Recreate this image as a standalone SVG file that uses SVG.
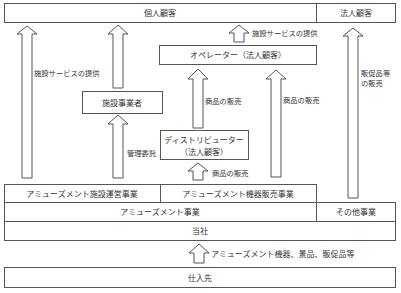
<svg xmlns="http://www.w3.org/2000/svg" width="401" height="293" viewBox="0 0 401 293">
<style>
.b{fill:#fff;stroke:#555;stroke-width:1}
.a{fill:#fff;stroke:#555;stroke-width:1;stroke-linejoin:miter}
.t{font-family:"Noto Sans CJK JP","Noto Sans CJK SC",sans-serif;font-size:8px;fill:#333;text-anchor:middle}
.l{font-family:"Noto Sans CJK JP","Noto Sans CJK SC",sans-serif;font-size:7.3px;fill:#333}
</style>
<rect width="401" height="293" fill="#fff"/>
<g id="kojin"><rect class="b" x="4.5" y="3.5" width="312" height="19"/><text class="t" x="160" y="16">個人顧客</text></g>
<g id="hojin"><rect class="b" x="316.5" y="3.5" width="79" height="19"/><text class="t" x="356" y="16">法人顧客</text></g>
<g id="operator"><rect class="b" x="159.5" y="45.5" width="157" height="19"/><text class="t" x="238" y="58">オペレーター（法人顧客）</text></g>
<g id="shisetsu"><rect class="b" x="82.5" y="91.5" width="80" height="22"/><text class="t" x="122" y="105.5">施設事業者</text></g>
<g id="distributor"><rect class="b" x="160.5" y="130.5" width="88" height="29"/><text class="t" x="204" y="143">ディストリビューター</text><text class="t" x="204" y="155">（法人顧客）</text></g>
<g id="unei"><rect class="b" x="4.5" y="184.5" width="156" height="18"/><text class="t" x="82" y="196.5">アミューズメント施設運営事業</text></g>
<g id="hanbai"><rect class="b" x="160.5" y="184.5" width="156" height="18"/><text class="t" x="238" y="196.5">アミューズメント機器販売事業</text></g>
<g id="amusement"><rect class="b" x="4.5" y="202.5" width="312" height="19"/><text class="t" x="160" y="215">アミューズメント事業</text></g>
<g id="sonota"><rect class="b" x="316.5" y="202.5" width="79" height="19"/><text class="t" x="356" y="215">その他事業</text></g>
<g id="tosha"><rect class="b" x="4.5" y="221.5" width="391" height="19"/><text class="t" x="200" y="234">当社</text></g>
<g id="shiiresaki"><rect class="b" x="4.5" y="267.5" width="391" height="20"/><text class="t" x="200" y="280.5">仕入先</text></g>
<g id="connectors">
<polygon class="a" points="27,26 37,34 32,34 32,178 22,178 22,34 17,34"/>
<polygon class="a" points="118,25 128,34 123,34 123,88 113,88 113,34 108,34"/>
<polygon class="a" points="118,115 128,124 123,124 123,178 113,178 113,124 108,124"/>
<polygon class="a" points="239,25 249,33 244,33 244,42 234,42 234,33 229,33"/>
<polygon class="a" points="198,69 208,79 203,79 203,128 193,128 193,79 188,79"/>
<polygon class="a" points="276,70 286,79 281,79 281,177 271,177 271,79 266,79"/>
<polygon class="a" points="353,28 363,36 358,36 358,198 348,198 348,36 343,36"/>
<polygon class="a" points="198,163 208,171 203,171 203,180 193,180 193,171 188,171"/>
<polygon class="a" points="199,244 209,253 204,253 204,263 194,263 194,253 189,253"/>
<text class="l" x="34" y="76">施設サービスの提供</text>
<text class="l" x="252" y="36">施設サービスの提供</text>
<text class="l" x="127" y="156">管理委託</text>
<text class="l" x="205" y="104">商品の販売</text>
<text class="l" x="283" y="103">商品の販売</text>
<text class="l" x="361" y="76">販促品等</text>
<text class="l" x="361" y="86">の販売</text>
<text class="l" x="212" y="176">商品の販売</text>
<text class="l" x="211" y="257" style="font-size:8px">アミューズメント機器、景品、販促品等</text>
</g>
</svg>
